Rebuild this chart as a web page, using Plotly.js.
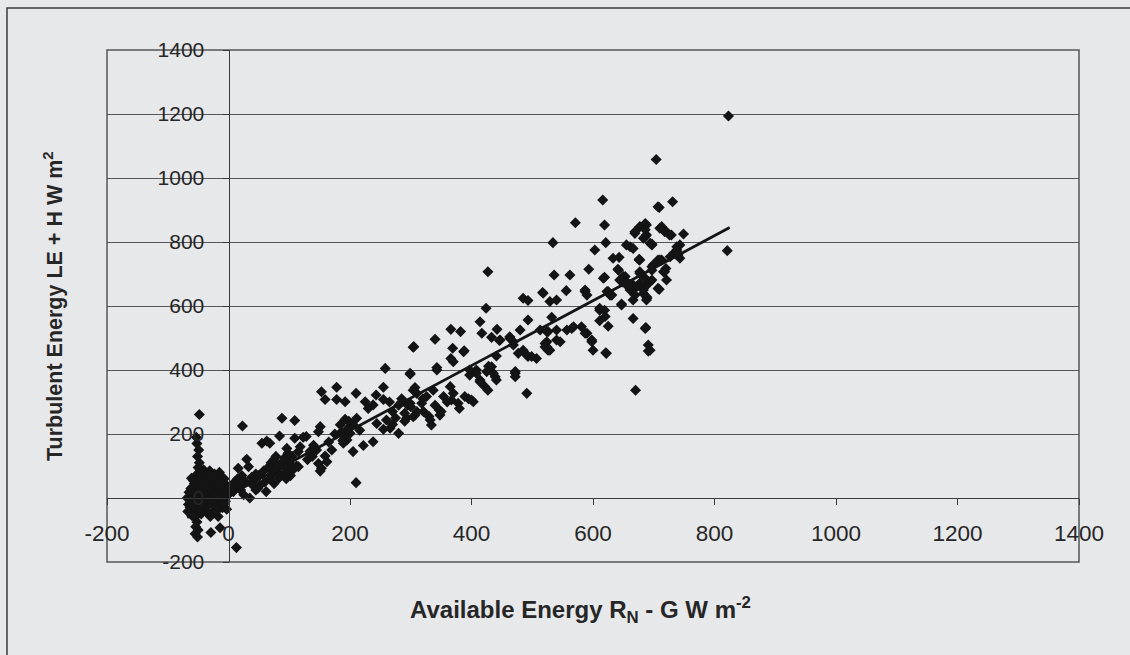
<!DOCTYPE html>
<html>
<head>
<meta charset="utf-8">
<script src="https://cdn.plot.ly/plotly-3.0.1.min.js"></script>
<style>
  html, body { margin: 0; padding: 0; background: #e7e8ea; }
  #chart { width: 1130px; height: 655px; }
</style>
</head>
<body>
<div id="chart"></div>
<script>
// ---- Data (W m-2) ----
// Points clustered around the origin (night-time / low energy)
const nearZero = [
  [-66,-20],[-64,5],[-62,30],[-60,-40],[-58,55],[-57,-5],[-55,20],[-54,70],[-52,-30],[-50,40],
  [-49,0],[-47,-45],[-46,85],[-45,15],[-44,60],[-42,-15],[-40,30],[-38,-35],[-37,75],[-36,5],
  [-34,50],[-32,-20],[-30,20],[-29,65],[-27,-5],[-25,40],[-24,-40],[-22,10],[-20,55],[-18,-15],
  [-17,30],[-15,80],[-13,0],[-12,45],[-10,-30],[-9,20],[-7,60],[-5,-10],[-4,35],[-2,10],
  [-60,-55],[-56,45],[-53,-12],[-48,25],[-43,-28],[-39,48],[-33,-8],[-28,38],[-21,-25],[-16,15],
  [-11,65],[-6,45],[-63,-30],[-41,88],[-31,85],[-67,-42],[-65,18],[-61,62],[-58,-22],[-45,-50],
  [-35,-45],[-26,-18],[-19,-40],[-8,-20],[-3,-35],[-23,75],[-36,28],[-14,40],[-1,25],[-68,0],
  [-50,95],[-48,110],[-51,130],[-49,150],[-52,170],[-53,190],[-48,261],
  [-55,-60],[-52,-75],[-54,-90],[-50,-100],[-55,-112],[-51,-122],[-30,-58],[-17,-58],[-14,-93],[-29,-108],[13,-155],
  [2,15],[5,35],[8,20],[10,50],[12,30],[15,60],[18,40],[20,25],[22,70],[25,10],
  [28,50],[30,121],[16,93],[33,98],[35,0],[38,65],[40,40],[45,75],[48,30],[23,225],[55,171],[63,178]
];
// Points with available energy roughly 40 - 310
const lowRange = [
  [42,55],[45,25],[50,70],[52,40],[58,85],[60,50],[62,20],[65,95],[68,60],[70,110],
  [72,75],[75,45],[78,130],[80,90],[82,60],[84,194],[85,105],[88,249],[90,75],[92,125],
  [95,95],[98,140],[100,110],[102,70],[105,130],[107,90],[109,187],[109,242],[112,100],[115,145],
  [70,90],[80,100],[90,110],[100,80],[95,60],[85,70],[75,120],[105,95],
  [96,155],[118,160],[134,145],[145,150],[68,171],[128,192],[123,190],[151,223],[148,207],[159,131],
  [148,108],[151,84],[115,98],[162,113],[153,93],[130,120],[140,165],[165,175],[170,150],[175,200],[138,130],
  [205,145],[210,48],[222,164],[238,176],[216,212],[280,202],[184,229],[192,246],[211,249],[244,233],
  [255,308],[230,280],[225,301],[192,301],[178,308],[159,308],[153,332],[178,346],[210,327],[243,322],
  [255,346],[304,337],[299,387],[258,405],[304,471],
  [195,181],[200,202],[189,171],[200,222],[238,291],[260,244],[290,265],[293,249],[307,259],[266,218],
  [190,195],[195,215],[185,205],[205,230],[198,240],[188,180],
  [270,270],[280,290],[265,300],[285,310],[275,250],[295,290],[255,215],[270,230]
];
// Points with available energy roughly 300 - 550
const midRange = [
  [534,798],[427,707],[536,697],[517,642],[485,624],[493,617],[529,614],[540,619],[424,593],[493,556],
  [414,551],[366,527],[382,520],[442,527],[433,502],[480,525],[340,496],[446,492],[469,478],[305,473],
  [369,468],[388,460],[507,436],[441,444],[366,436],[428,412],[343,408],[472,390],[422,348],[491,327],
  [299,390],[403,301],[334,228],
  [532,565],[417,515],[463,499],[524,520],[540,525],[521,483],[526,462],[540,494],[477,452],[485,462],
  [493,442],[408,400],[397,384],[414,369],[436,390],[441,369],[427,337],[389,317],[370,327],[367,306],
  [378,296],[347,275],[348,259],[332,244],[310,327],[318,296],[326,317],[304,254],[321,270],[354,317],
  [337,337],[299,296],[365,348],[307,345],
  [447,494],[463,504],[469,488],[387,457],[343,400],[370,426],[425,395],[433,410],[439,379],[397,400],
  [408,390],[414,363],[472,395],[472,379],[400,306],
  [285,300],[300,285],[320,310],[340,290],[360,300],[380,280],[395,310],[310,270],[350,270],[290,240],[330,255],
  [491,447],[499,442],[524,473],[529,462],[513,525],[526,520],[546,488],[524,488],[521,472]
];
// Points with available energy roughly 550 - 830
const highRange = [
  [557,525],[568,535],[581,535],[590,515],[598,494],[600,462],[611,587],[620,567],[625,537],[622,452],
  [587,650],[590,634],[661,650],[666,619],[672,660],[677,671],[683,650],[688,629],[617,687],[623,645],
  [628,634],[644,681],[650,692],[655,671],[642,712],[633,749],[655,791],[661,785],[666,780],[669,827],
  [677,848],[688,853],[688,822],[694,796],[676,744],[697,723],[707,655],[716,707],[720,717],[721,681],
  [713,744],[727,754],[738,775],[740,759],[743,791],[710,843],[718,832],[726,822],[647,603],
  [571,860],[616,931],[619,853],[603,775],[621,798],[669,832],[683,812],[697,791],[643,752],[676,746],
  [593,715],[641,715],[562,697],[619,690],[518,640],[556,648],[587,645],[631,634],[625,645],[647,606],
  [611,593],[619,587],[611,554],[666,561],[687,533],[691,459],[565,530],[587,515],[598,488],[621,454],
  [653,692],[658,671],[648,675],[666,666],[656,664],[677,702],[686,687],[694,676],[699,728],[707,744],
  [689,625],[669,634],
  [823,1194],[704,1058],[709,908],[731,926],[707,910],[686,858],[686,838],[686,817],[729,822],[749,825],
  [713,848],[721,832],[697,794],[738,785],[740,765],[733,765],[743,749],[821,773],[710,744],[697,712],
  [677,744],[677,707],[718,707],[697,681],[686,660],[683,639],[688,619],[709,652],[686,530],[691,478],
  [694,462],[670,337]
];
// Linear trend line end points
const trendX = [-68, 825];
const trendY = [-61, 845];

// Axis ticks
const tickVals = [-200, 0, 200, 400, 600, 800, 1000, 1200, 1400];
const tickText = ['-200', '0', '200', '400', '600', '800', '1000', '1200', '1400'];

const allPts = nearZero.concat(lowRange, midRange, highRange);
const px = allPts.map(p => p[0]);
const py = allPts.map(p => p[1]);

const FONT = 'Arial, "Liberation Sans", Helvetica, sans-serif';
const BG = '#e7e8ea';

const traces = [
  {
    type: 'scatter', mode: 'markers', x: px, y: py,
    marker: { symbol: 'diamond', size: 8.5, color: '#141414', line: { width: 0 } },
    hoverinfo: 'x+y', showlegend: false
  },
  {
    type: 'scatter', mode: 'lines', x: trendX, y: trendY,
    line: { color: '#141414', width: 2.8 },
    hoverinfo: 'skip', showlegend: false
  }
];

const layout = {
  width: 1130, height: 655,
  margin: { l: 107, r: 51, t: 50, b: 93 },
  paper_bgcolor: BG, plot_bgcolor: BG,
  font: { family: FONT, color: '#262626' },
  showlegend: false,
  xaxis: {
    range: [-200, 1400], tickmode: 'array', tickvals: tickVals, ticktext: tickText,
    anchor: 'free', position: 0.125,
    showline: true, linecolor: '#3a3a3a', linewidth: 1,
    ticks: 'outside', ticklen: 6, tickcolor: '#3a3a3a', tickwidth: 1,
    ticklabelstandoff: 9,
    showgrid: false, zeroline: false,
    tickfont: { family: FONT, size: 22.5, color: '#262626' }
  },
  yaxis: {
    range: [-200, 1400], tickmode: 'array', tickvals: tickVals, ticktext: tickText,
    anchor: 'free', position: 0.125,
    showline: true, linecolor: '#3a3a3a', linewidth: 1,
    ticks: 'outside', ticklen: 6, tickcolor: '#3a3a3a', tickwidth: 1,
    ticklabelstandoff: 14,
    showgrid: true, gridcolor: '#555555', gridwidth: 1, zeroline: false,
    tickfont: { family: FONT, size: 21, color: '#262626' }
  },
  shapes: [
    { type: 'rect', xref: 'paper', yref: 'paper', x0: 0, x1: 1, y0: 0, y1: 1,
      line: { color: '#555555', width: 1.5 }, fillcolor: 'rgba(0,0,0,0)', layer: 'below' },
    { type: 'rect', xref: 'paper', yref: 'paper', x0: -0.1029, x1: 1.07, y0: -0.21, y1: 1.082,
      line: { color: '#3a3a3a', width: 1.5 }, fillcolor: 'rgba(0,0,0,0)' }
  ],
  annotations: [
    { xref: 'paper', yref: 'paper', x: 0.487, y: -0.094, showarrow: false,
      xanchor: 'center', yanchor: 'middle',
      text: '<b>Available Energy R<sub>N</sub> - G W m<sup>-2</sup></b>',
      font: { family: FONT, size: 24, color: '#262626' } },
    { xref: 'paper', yref: 'paper', x: -0.0556, y: 0.5, showarrow: false, textangle: -90,
      xanchor: 'center', yanchor: 'middle',
      text: '<b>Turbulent Energy LE + H W m<sup>2</sup></b>',
      font: { family: FONT, size: 21.5, color: '#262626' } }
  ]
};

Plotly.newPlot('chart', traces, layout, { displayModeBar: false, staticPlot: true });
</script>
</body>
</html>
